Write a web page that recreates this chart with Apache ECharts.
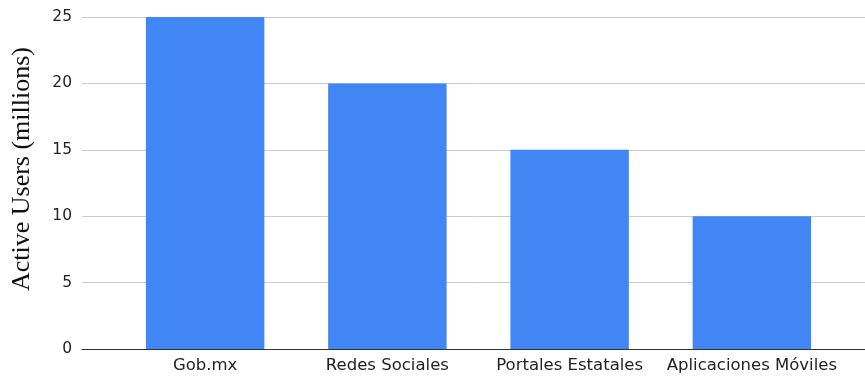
<!DOCTYPE html>
<html><head><meta charset="utf-8">
<script src="https://cdn.jsdelivr.net/npm/echarts@6/dist/echarts.min.js"></script>
<style>html,body{margin:0;padding:0;background:#fff}#c{width:865px;height:377px}</style>
</head><body><div id="c"></div>
<script>
const categories = ["Gob.mx", "Redes Sociales", "Portales Estatales", "Aplicaciones Móviles"];
const activeUsers = [25, 20, 15, 10];
const yTicks = [0, 5, 10, 15, 20, 25];
const yTitle = "Active Users (millions)";

const chart = echarts.init(document.getElementById('c'), null, {renderer: 'canvas'});
chart.setOption({
  animation: false,
  backgroundColor: '#ffffff',
  grid: [
    {left: 82, right: 0, top: 17, bottom: 28},
    {left: 114, right: 22, top: 17, bottom: 28}
  ],
  graphic: [{
    type: 'text', left: 9, top: 47, rotation: Math.PI / 2,
    style: {text: yTitle, font: '26px "Liberation Serif", "Times New Roman", serif', fill: '#111'}
  }],
  xAxis: [
    {gridIndex: 0, type: 'value', min: 0, max: 1, show: true,
     axisLine: {show: true, onZero: false, lineStyle: {color: '#333', width: 1.2}},
     axisTick: {show: false}, axisLabel: {show: false}, splitLine: {show: false}},
    {gridIndex: 1, type: 'category', data: categories,
     axisLine: {show: false}, axisTick: {show: false},
     axisLabel: {interval: 0, color: '#222', fontSize: 16.5, fontFamily: '"DejaVu Sans", Arial, sans-serif', margin: 8}}
  ],
  yAxis: [
    {gridIndex: 0, type: 'value', min: yTicks[0], max: yTicks[yTicks.length-1], interval: 5,
     axisLine: {show: false}, axisTick: {show: false},
     axisLabel: {color: '#222', fontSize: 15.5, fontFamily: '"DejaVu Sans", Arial, sans-serif', margin: 10},
     splitLine: {show: true, lineStyle: {color: '#cccccc', width: 1}}},
    {gridIndex: 1, type: 'value', min: 0, max: 25, show: false, splitLine: {show: false}}
  ],
  series: [{
    type: 'bar', xAxisIndex: 1, yAxisIndex: 1,
    data: activeUsers, barCategoryGap: '35%',
    itemStyle: {color: '#4285F4'}
  }]
});
</script></body></html>
